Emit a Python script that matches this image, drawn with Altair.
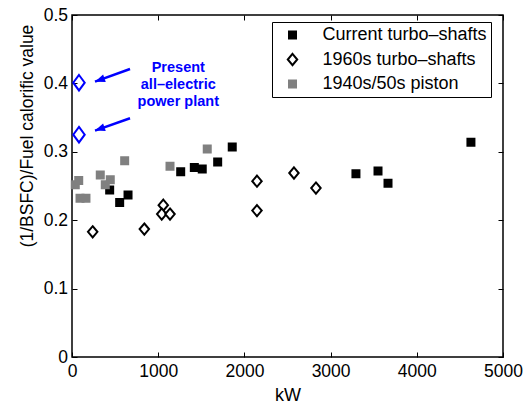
import altair as alt
import pandas as pd

# ---- data ----
series_names = ["Current turbo–shafts", "1960s turbo–shafts", "1940s/50s piston"]

current_kw = [437, 553, 650, 1261, 1419, 1511, 1690, 1859, 3294, 3550, 3666, 4628]
current_eff = [0.244, 0.226, 0.237, 0.271, 0.277, 0.275, 0.285, 0.307, 0.268, 0.272, 0.254, 0.314]

s1960_kw = [240, 839, 1059, 1041, 1137, 2146, 2146, 2575, 2830]
s1960_eff = [0.183, 0.187, 0.222, 0.209, 0.209, 0.257, 0.214, 0.269, 0.247]

piston_kw = [38, 78, 93, 162, 328, 386, 444, 611, 1137, 1569]
piston_eff = [0.252, 0.258, 0.232, 0.232, 0.266, 0.252, 0.259, 0.287, 0.279, 0.304]

electric_kw = [81, 81]
electric_eff = [0.401, 0.325]

arrow_tail_kw = [673, 673]
arrow_tail_eff = [0.421, 0.349]
arrow_head_kw = [267, 267]
arrow_head_eff = [0.4025, 0.331]

note_lines = ["Present", "all–electric", "power plant"]
note_kw = [1233, 1233, 1233]
note_eff = [0.422, 0.398, 0.373]

x_ticks = [0, 1000, 2000, 3000, 4000, 5000]
y_ticks = [0, 0.1, 0.2, 0.3, 0.4, 0.5]

# ---- tables ----
rows = []
for k, e in zip(current_kw, current_eff):
    rows.append({"kw": k, "eff": e, "series": series_names[0], "order": 0})
for k, e in zip(s1960_kw, s1960_eff):
    rows.append({"kw": k, "eff": e, "series": series_names[1], "order": 1})
for k, e in zip(piston_kw, piston_eff):
    rows.append({"kw": k, "eff": e, "series": series_names[2], "order": 2})
pts = pd.DataFrame(rows)

elec = pd.DataFrame({"kw": electric_kw, "eff": electric_eff})
arrows = pd.DataFrame({"tx": arrow_tail_kw, "ty": arrow_tail_eff,
                       "hx": arrow_head_kw, "hy": arrow_head_eff})
notes = pd.DataFrame({"kw": note_kw, "eff": note_eff, "txt": note_lines})

FONT = "Liberation Sans"
SQUARE = "M-1,-1L1,-1L1,1L-1,1Z"
DIAMOND = "M0,-1.6L1.35,0L0,1.6L-1.35,0Z"
BIG_DIAMOND = "M0,-1L0.74,0L0,1L-0.74,0Z"
HEAD = "M0,0L0.4,1L-0.4,1Z"

xscale = alt.Scale(domain=[0, 5000], nice=False, zero=False)
yscale = alt.Scale(domain=[0, 0.5], nice=False, zero=False)

legend = alt.Legend(
    title=None, orient="none", legendX=200, legendY=7,
    padding=4, strokeColor="black", fillColor="white",
    labelFont=FONT, labelFontSize=18, labelColor="black", labelLimit=400,
    symbolSize=49, symbolStrokeWidth=2, symbolOffset=7.5,
    labelOffset=21, rowPadding=5.5,
)

points = alt.Chart(pts).mark_point(filled=True, opacity=1, size=49, strokeWidth=2).encode(
    x=alt.X("kw:Q", scale=xscale, axis=alt.Axis(
        orient="bottom", values=x_ticks, format="d", offset=-5, domain=False, grid=False,
        tickSize=5, tickColor="black", labelPadding=5.5, labelFontSize=17.5,
        labelColor="black", labelFlush=False, labelFont=FONT,
        title="kW", titleFontSize=18, titleFontWeight="normal", titleColor="black",
        titleBaseline="alphabetic", titleY=48, titleFont=FONT)),
    y=alt.Y("eff:Q", scale=yscale, axis=alt.Axis(
        orient="left", values=y_ticks, offset=-5, domain=False, grid=False,
        tickSize=5, tickColor="black", labelPadding=4.5, labelFontSize=17.5,
        labelColor="black", labelFont=FONT,
        labelExpr="datum.value == 0 ? '0' : format(datum.value, '.1f')",
        title="(1/BSFC)/Fuel calorific value", titleFontSize=17.5, titleFontWeight="normal",
        titleColor="black", titleX=-45, titleY=120.5, titleBaseline="alphabetic",
        titleAngle=270, titleFont=FONT)),
    shape=alt.Shape("series:N", scale=alt.Scale(domain=series_names, range=[SQUARE, DIAMOND, SQUARE]), legend=legend),
    fill=alt.Fill("series:N", scale=alt.Scale(domain=series_names, range=["black", "white", "#808080"]), legend=legend),
    stroke=alt.Stroke("series:N", scale=alt.Scale(domain=series_names, range=["black", "black", "#808080"]), legend=legend),
    order=alt.Order("order:Q"),
)

electric = alt.Chart(elec).mark_point(shape=BIG_DIAMOND, size=240, filled=False,
                                      stroke="blue", strokeWidth=2, opacity=1).encode(
    x=alt.X("kw:Q", scale=xscale, axis=alt.Axis(
        orient="top", values=x_ticks, offset=-5, domain=False, grid=False, labels=False,
        tickSize=5, tickColor="black", title=None)),
    y=alt.Y("eff:Q", scale=yscale, axis=alt.Axis(
        orient="right", values=y_ticks, offset=-5, domain=False, grid=False, labels=False,
        tickSize=5, tickColor="black", title=None)),
)

shafts = alt.Chart(arrows).mark_rule(color="blue", strokeWidth=2.5).encode(
    x=alt.X("tx:Q", scale=xscale, axis=None),
    y=alt.Y("ty:Q", scale=yscale, axis=None),
    x2="hx:Q", y2="hy:Q",
)

heads = alt.Chart(arrows).mark_point(shape=HEAD, size=400, filled=True, color="blue",
                                     opacity=1, angle=250.5, strokeWidth=0).encode(
    x=alt.X("hx:Q", scale=xscale, axis=None),
    y=alt.Y("hy:Q", scale=yscale, axis=None),
)

note = alt.Chart(notes).mark_text(color="blue", font=FONT, fontSize=14.5, fontWeight="bold",
                                  align="center", baseline="middle").encode(
    x=alt.X("kw:Q", scale=xscale, axis=None),
    y=alt.Y("eff:Q", scale=yscale, axis=None),
    text="txt:N",
)

chart = alt.layer(points, electric, shafts, heads, note).resolve_axis(
    x="independent", y="independent"
).properties(
    width=431, height=342,
    autosize=alt.AutoSizeParams(type="none"),
    padding={"left": 72, "top": 15, "right": 23, "bottom": 48},
    background="white",
).configure(font=FONT).configure_view(stroke="black", strokeWidth=1.5)

chart.save("out.html", embed_options={"renderer": "svg", "actions": False})
